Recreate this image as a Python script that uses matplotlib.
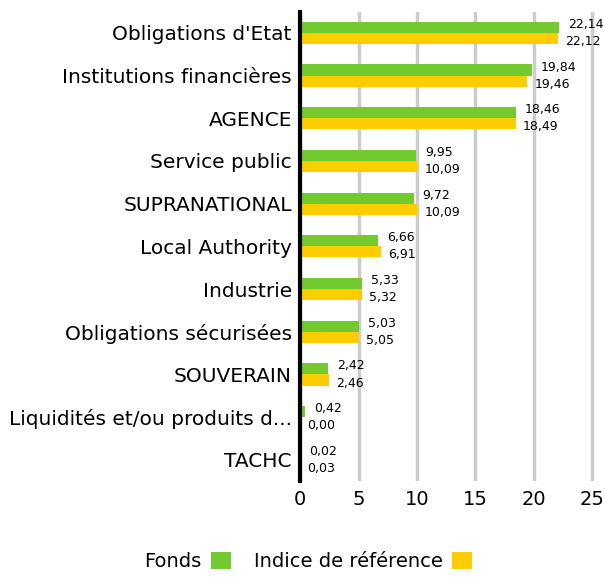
import numpy as np
import matplotlib.pyplot as plt

plt.rcParams['font.family'] = ['DejaVu Sans']

# Répartition par secteur (%)
secteurs = ["Obligations d'Etat", "Institutions financières", "AGENCE", "Service public",
            "SUPRANATIONAL", "Local Authority", "Industrie", "Obligations sécurisées",
            "SOUVERAIN", "Liquidités et/ou produits d...", "TACHC"]
fonds = [22.14, 19.84, 18.46, 9.95, 9.72, 6.66, 5.33, 5.03, 2.42, 0.42, 0.02]
indice = [22.12, 19.46, 18.49, 10.09, 10.09, 6.91, 5.32, 5.05, 2.46, 0.00, 0.03]

vert = '#73C930'
jaune = '#FFCC00'

fig = plt.figure(figsize=(6.04, 5.77), dpi=100)
ax = fig.add_axes([0.497, 0.166, 0.493, 0.814])

y = np.arange(len(secteurs))
h = 0.26
ax.barh(y - h / 2, fonds, height=h, color=vert, label='Fonds', zorder=3)
ax.barh(y + h / 2, indice, height=h, color=jaune, label='Indice de référence', zorder=3)

for i in range(len(secteurs)):
    ax.annotate(f"{fonds[i]:.2f}".replace('.', ','), (fonds[i], y[i] - h / 2 - 0.07),
                xytext=(6.5, 0), textcoords='offset points', va='center', ha='left', fontsize=9)
    ax.annotate(f"{indice[i]:.2f}".replace('.', ','), (indice[i], y[i] + h / 2 + 0.07),
                xytext=(5, 0), textcoords='offset points', va='center', ha='left', fontsize=9)

ax.set_yticks(y)
ax.set_yticklabels(secteurs)
ax.set_ylim(len(secteurs) - 0.5, -0.5)
ax.set_xlim(0, 25.5)
ax.set_xticks([0, 5, 10, 15, 20, 25])
ax.tick_params(axis='both', length=0, labelsize=14)
ax.tick_params(axis='y', pad=6, labelsize=14.5)
ax.tick_params(axis='x', pad=6)

ax.grid(axis='x', color='#cccccc', linewidth=2.5, zorder=0)
for s in ['top', 'right', 'bottom']:
    ax.spines[s].set_visible(False)
ax.spines['left'].set_linewidth(3)
ax.spines['left'].set_color('black')
ax.spines['left'].set_zorder(4)

fig.legend(loc='lower center', bbox_to_anchor=(0.51, -0.02), ncol=2, frameon=False,
           markerfirst=False, fontsize=14, handlelength=1.0, handleheight=1.0,
           columnspacing=1.2, handletextpad=0.5)

fig.savefig('out.png', dpi=100)
